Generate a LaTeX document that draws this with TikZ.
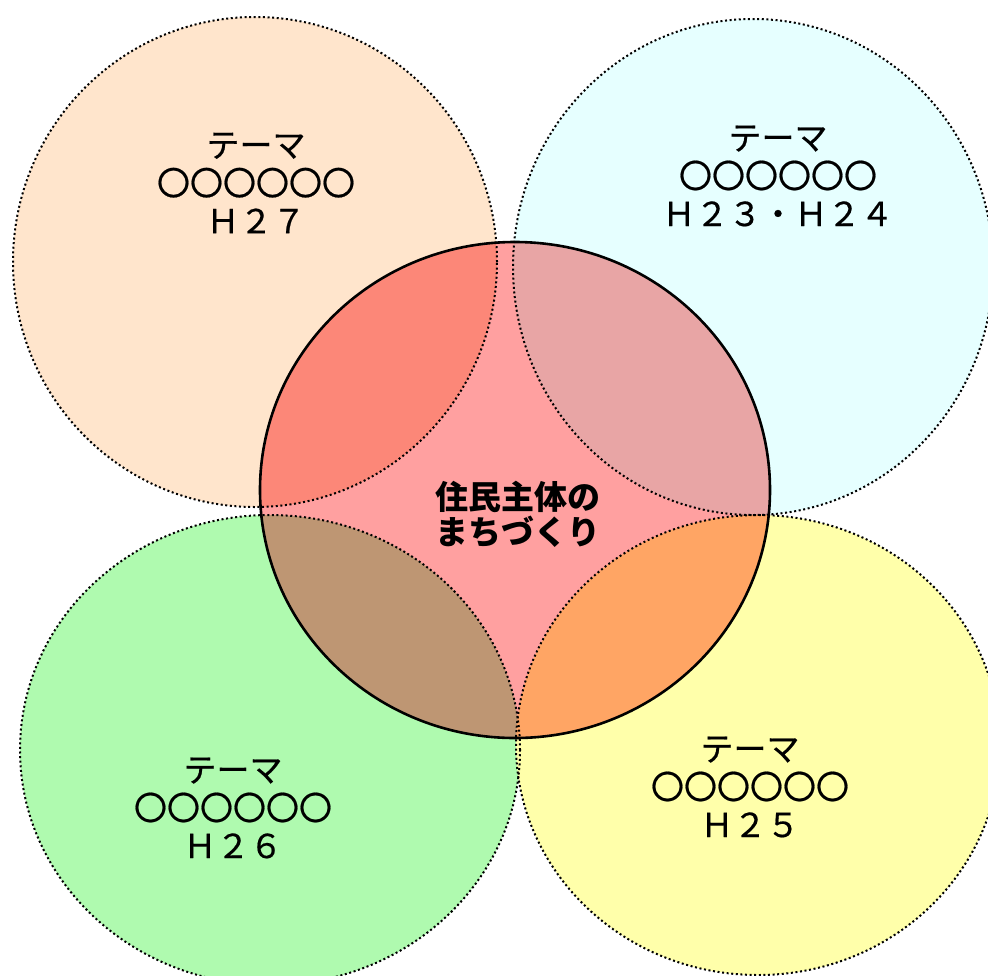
\documentclass[tikz,border=0pt]{standalone}
\usepackage{fontspec}
\setmainfont{Noto Sans CJK JP}
\definecolor{peachfill}{RGB}{255,229,204}
\definecolor{cyanfill}{RGB}{230,255,255}
\definecolor{greenfill}{RGB}{175,250,175}
\definecolor{yellowfill}{RGB}{255,255,170}
\definecolor{corefill}{RGB}{255,160,160}
\definecolor{corepeach}{RGB}{252,135,120}
\definecolor{corecyan}{RGB}{232,165,165}
\definecolor{coregreen}{RGB}{190,150,115}
\definecolor{coreyellow}{RGB}{255,165,100}
\tikzset{
  dotline/.style={draw=black, line width=2pt, dash pattern=on 2pt off 2.6pt},
  coreline/.style={draw=black, line width=2.6pt},
  themetext/.style={align=center, inner sep=0pt, font=\addfontfeature{FakeBold=0.6}\fontsize{33}{38}\selectfont},
  coretext/.style={align=center, inner sep=0pt, font=\bfseries\fontsize{33}{35}\selectfont}
}
\begin{document}
\begin{tikzpicture}[x=1pt,y=-1pt]
\useasboundingbox (0,0) rectangle (988,975);
\coordinate (pc) at (255,262);
\coordinate (cc) at (753,267);
\coordinate (gc) at (270,750);
\coordinate (yc) at (758,745);
\coordinate (mc) at (515,490);
% base fills
\fill[peachfill] (pc) ellipse [x radius=242pt, y radius=245pt];
\fill[cyanfill] (cc) ellipse [x radius=240pt, y radius=248pt];
\fill[greenfill] (gc) ellipse [x radius=250pt, y radius=235pt];
\fill[yellowfill] (yc) ellipse [x radius=242pt, y radius=230pt];
\fill[corefill] (mc) ellipse [x radius=255pt, y radius=248pt];
% overlaps with the core circle
\begin{scope}
  \clip (mc) ellipse [x radius=255pt, y radius=248pt];
  \fill[corepeach] (pc) ellipse [x radius=242pt, y radius=245pt];
  \fill[corecyan] (cc) ellipse [x radius=240pt, y radius=248pt];
  \fill[coregreen] (gc) ellipse [x radius=250pt, y radius=235pt];
  \fill[coreyellow] (yc) ellipse [x radius=242pt, y radius=230pt];
\end{scope}
% outlines
\draw[coreline] (mc) ellipse [x radius=255pt, y radius=248pt];
\draw[dotline] (pc) ellipse [x radius=242pt, y radius=245pt];
\draw[dotline] (cc) ellipse [x radius=240pt, y radius=248pt];
\draw[dotline] (gc) ellipse [x radius=250pt, y radius=235pt];
\draw[dotline] (yc) ellipse [x radius=242pt, y radius=230pt];
% texts
\node[themetext] (t27) at (256,183) {テーマ\\〇〇〇〇〇〇\\Ｈ２７};
\node[themetext] (t2324) at (778,176) {テーマ\\〇〇〇〇〇〇\\Ｈ２３・Ｈ２４};
\node[themetext] (t26) at (233,808) {テーマ\\〇〇〇〇〇〇\\Ｈ２６};
\node[themetext] (t25) at (750,787) {テーマ\\〇〇〇〇〇〇\\Ｈ２５};
\node[coretext] (core) at (518,514) {住民主体の\\まちづくり};
\end{tikzpicture}
\end{document}
